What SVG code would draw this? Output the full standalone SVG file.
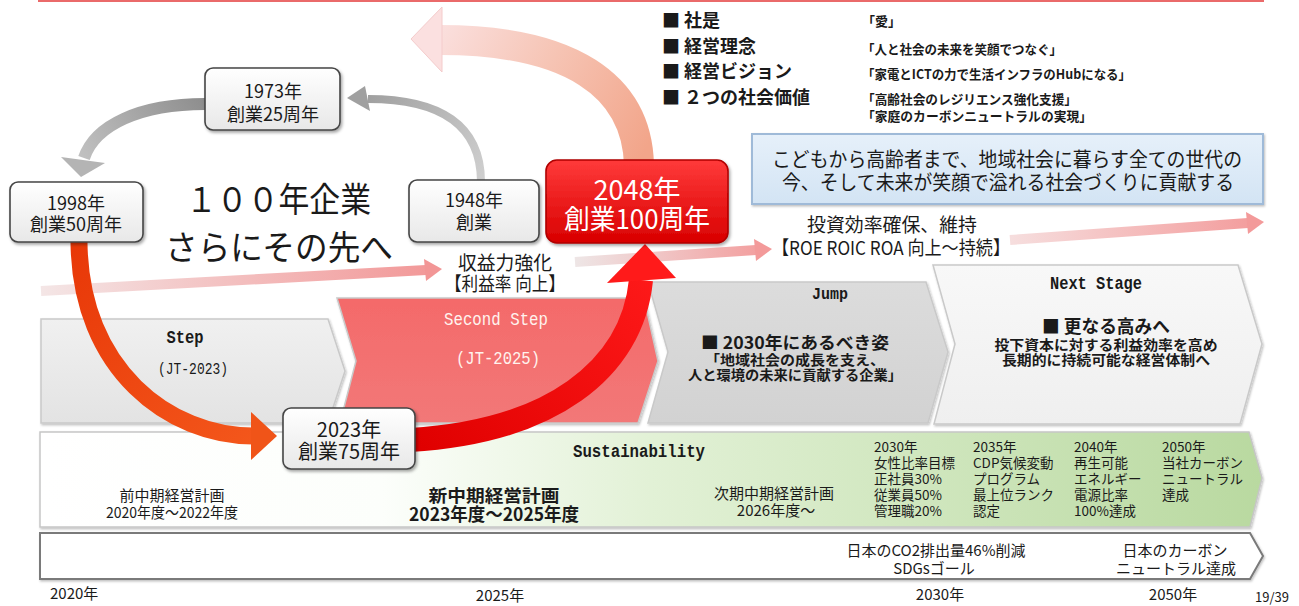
<svg xmlns="http://www.w3.org/2000/svg" width="1299" height="606" viewBox="0 0 1299 606">
<defs>
<style>
text { font-family: "Noto Sans CJK JP", "Noto Sans", sans-serif; fill: #1a1a1a; }
.c { text-anchor: middle; }
.b { font-weight: bold; }
.m { font-family: "Liberation Mono", "DejaVu Sans Mono", "Noto Sans CJK JP", monospace; font-weight: bold; }
.node { fill: url(#gNode); stroke: #454545; stroke-width: 1.6; filter: url(#sh); }
.nt { font-size: 18px; text-anchor: middle; }
.col { font-size: 13.5px; }
.chev { stroke: #c9c9c9; stroke-width: 1.5; filter: url(#sh2); }
</style>
<linearGradient id="gNode" x1="0" y1="0" x2="0" y2="1"><stop offset="0" stop-color="#ffffff"/><stop offset="1" stop-color="#e8e8e8"/></linearGradient>
<linearGradient id="gRedBox" x1="0" y1="0" x2="0" y2="1"><stop offset="0" stop-color="#ff3a3a"/><stop offset="1" stop-color="#d80000"/></linearGradient>
<linearGradient id="gStep" x1="0" y1="0" x2="0" y2="1"><stop offset="0" stop-color="#f0f0f0"/><stop offset="1" stop-color="#e3e3e3"/></linearGradient>
<linearGradient id="gSecond" x1="0" y1="0" x2="0" y2="1"><stop offset="0" stop-color="#f46a6a"/><stop offset="1" stop-color="#f27878"/></linearGradient>
<linearGradient id="gJump" x1="0" y1="0" x2="0" y2="1"><stop offset="0" stop-color="#dcdcdc"/><stop offset="1" stop-color="#d2d2d2"/></linearGradient>
<linearGradient id="gNext" x1="0" y1="0" x2="0" y2="1"><stop offset="0" stop-color="#f8f8f8"/><stop offset="1" stop-color="#efefef"/></linearGradient>
<linearGradient id="gGreen" x1="40" y1="0" x2="1262" y2="0" gradientUnits="userSpaceOnUse"><stop offset="0" stop-color="#ffffff"/><stop offset="0.28" stop-color="#fcfefb"/><stop offset="0.5" stop-color="#e2f1d6"/><stop offset="1" stop-color="#b9d9a0"/></linearGradient>
<linearGradient id="gBlue" x1="0" y1="0" x2="0" y2="1"><stop offset="0" stop-color="#e6f0fa"/><stop offset="1" stop-color="#d3e4f4"/></linearGradient>
<linearGradient id="gPinkBig" x1="640" y1="160" x2="420" y2="40" gradientUnits="userSpaceOnUse"><stop offset="0" stop-color="#f2a58a"/><stop offset="0.5" stop-color="#f6c4b4"/><stop offset="1" stop-color="#fbe2e2"/></linearGradient>
<linearGradient id="gRed2" x1="415" y1="440" x2="645" y2="250" gradientUnits="userSpaceOnUse"><stop offset="0" stop-color="#e00000"/><stop offset="1" stop-color="#ff1a1a"/></linearGradient>
<linearGradient id="gRed1" x1="79" y1="242" x2="276" y2="436" gradientUnits="userSpaceOnUse"><stop offset="0" stop-color="#e83808"/><stop offset="1" stop-color="#f4581c"/></linearGradient>
<linearGradient id="gGrayB" x1="205" y1="104" x2="81" y2="176" gradientUnits="userSpaceOnUse"><stop offset="0" stop-color="#8e8e8e"/><stop offset="1" stop-color="#c4c4c4"/></linearGradient>
<linearGradient id="gGrayA" x1="481" y1="182" x2="347" y2="98" gradientUnits="userSpaceOnUse"><stop offset="0" stop-color="#cfcfcf"/><stop offset="1" stop-color="#9a9a9a"/></linearGradient>
<linearGradient id="gPk1" x1="40" y1="0" x2="442" y2="0" gradientUnits="userSpaceOnUse"><stop offset="0" stop-color="#f4e6e6"/><stop offset="1" stop-color="#f29696"/></linearGradient>
<linearGradient id="gPk2" x1="575" y1="0" x2="772" y2="0" gradientUnits="userSpaceOnUse"><stop offset="0" stop-color="#eee6e6"/><stop offset="1" stop-color="#f39a9a"/></linearGradient>
<linearGradient id="gPk3" x1="1010" y1="0" x2="1264" y2="0" gradientUnits="userSpaceOnUse"><stop offset="0" stop-color="#f6dede"/><stop offset="1" stop-color="#f39a9a"/></linearGradient>
<filter id="sh" x="-10%" y="-10%" width="130%" height="140%"><feDropShadow dx="1.5" dy="2" stdDeviation="1.5" flood-color="#000" flood-opacity="0.35"/></filter>
<filter id="sh2" x="-5%" y="-5%" width="110%" height="115%"><feDropShadow dx="1" dy="1.5" stdDeviation="1.2" flood-color="#000" flood-opacity="0.25"/></filter>
</defs>

<!-- top rule -->
<line x1="38" y1="1" x2="1264" y2="1" stroke="#ea6a6a" stroke-width="2"/>

<!-- stage chevrons -->
<g id="stage-step">
<polygon class="chev" fill="url(#gStep)" points="41,319 328,319 345,371 328,423 41,423"/>
<text class="m c" x="185" y="343" font-size="18" textLength="37" lengthAdjust="spacingAndGlyphs">Step</text>
<text class="m c" x="193" y="374" font-size="17" style="font-weight:normal" textLength="70" lengthAdjust="spacingAndGlyphs">(JT-2023)</text>
</g>
<g id="stage-second">
<polygon class="chev" fill="url(#gSecond)" stroke="#f29a9a" points="337,298 644,298 658,361 638,423 340,423 356,361"/>
<text class="m c" x="496" y="325" font-size="18" style="fill:#fff3ee;font-weight:normal" textLength="104" lengthAdjust="spacingAndGlyphs">Second Step</text>
<text class="m c" x="498" y="364" font-size="18" style="fill:#fff3ee;font-weight:normal" textLength="84" lengthAdjust="spacingAndGlyphs">(JT-2025)</text>
</g>
<g id="stage-jump">
<polygon class="chev" fill="url(#gJump)" points="648,282 926,282 948,352 928,423 648,423 668,352"/>
<text class="m c" x="830" y="299" font-size="17" textLength="36" lengthAdjust="spacingAndGlyphs">Jump</text>
<text class="c b" x="795" y="349" font-size="17" textLength="188" lengthAdjust="spacingAndGlyphs">■ 2030年にあるべき姿</text>
<text class="c b" x="795" y="365" font-size="13.5" textLength="180" lengthAdjust="spacingAndGlyphs">「地域社会の成長を支え、</text>
<text class="c b" x="795" y="380" font-size="13.5" textLength="214" lengthAdjust="spacingAndGlyphs">人と環境の未来に貢献する企業」</text>
</g>
<g id="stage-next">
<polygon class="chev" fill="url(#gNext)" stroke="#b8b8b8" points="933,265 1238,265 1262,344 1240,424 934,424 955,344"/>
<text class="m c" x="1096" y="289" font-size="18" textLength="92" lengthAdjust="spacingAndGlyphs">Next Stage</text>
<text class="c b" x="1106" y="333" font-size="18" textLength="128" lengthAdjust="spacingAndGlyphs">■ 更なる高みへ</text>
<text class="c b" x="1106" y="350" font-size="13.5" textLength="223" lengthAdjust="spacingAndGlyphs">投下資本に対する利益効率を高め</text>
<text class="c b" x="1106" y="365" font-size="13.5" textLength="208" lengthAdjust="spacingAndGlyphs">長期的に持続可能な経営体制へ</text>
</g>

<!-- sustainability band -->
<g id="band-sustainability">
<polygon points="40,432 1249,432 1262,478 1250,527 40,527" fill="url(#gGreen)" stroke="#c6c6c6" stroke-width="1.5" filter="url(#sh2)"/>
<text class="m c" x="639" y="457" font-size="18" textLength="132" lengthAdjust="spacingAndGlyphs">Sustainability</text>
<text class="c" x="172" y="501" font-size="15">前中期経営計画</text>
<text class="c" x="172" y="518" font-size="15" textLength="132" lengthAdjust="spacingAndGlyphs">2020年度～2022年度</text>
<text class="c b" x="494" y="502" font-size="17" textLength="131" lengthAdjust="spacingAndGlyphs">新中期経営計画</text>
<text class="c b" x="494" y="521" font-size="18" textLength="170" lengthAdjust="spacingAndGlyphs">2023年度～2025年度</text>
<text class="c" x="774" y="499" font-size="15">次期中期経営計画</text>
<text class="c" x="776" y="516" font-size="15">2026年度～</text>
<g class="col">
<text x="874" y="452">2030年</text>
<text x="874" y="468">女性比率目標</text>
<text x="874" y="484">正社員30%</text>
<text x="874" y="500">従業員50%</text>
<text x="874" y="516">管理職20%</text>
<text x="973" y="452">2035年</text>
<text x="973" y="468">CDP気候変動</text>
<text x="973" y="484">プログラム</text>
<text x="973" y="500">最上位ランク</text>
<text x="973" y="516">認定</text>
<text x="1074" y="452">2040年</text>
<text x="1074" y="468">再生可能</text>
<text x="1074" y="484">エネルギー</text>
<text x="1074" y="500">電源比率</text>
<text x="1074" y="516">100%達成</text>
<text x="1162" y="452">2050年</text>
<text x="1162" y="468">当社カーボン</text>
<text x="1162" y="484">ニュートラル</text>
<text x="1162" y="500">達成</text>
</g>
</g>

<!-- timeline bar -->
<g id="timeline">
<polygon points="40,533 1250,533 1263,556 1250,579 40,579" fill="#ffffff" stroke="#7a7a7a" stroke-width="2" filter="url(#sh2)"/>
<text class="c" x="936" y="556" font-size="15">日本のCO2排出量46%削減</text>
<text class="c" x="934" y="574" font-size="15">SDGsゴール</text>
<text class="c" x="1175" y="556" font-size="15">日本のカーボン</text>
<text class="c" x="1176" y="574" font-size="15">ニュートラル達成</text>
<text x="50" y="599" font-size="15">2020年</text>
<text class="c" x="500" y="601" font-size="15">2025年</text>
<text class="c" x="940" y="600" font-size="15">2030年</text>
<text class="c" x="1173" y="600" font-size="15">2050年</text>
<text class="c" x="1272" y="602" font-size="13">19/39</text>
</g>

<!-- connectors -->
<g id="connectors">
<g id="trend-arrows">
<path d="M41 291 L426 270" stroke="url(#gPk1)" stroke-width="10" fill="none"/>
<polygon points="424,259 442,269 426,281" fill="#f29696"/>
<path d="M575 262 L756 250" stroke="url(#gPk2)" stroke-width="10" fill="none"/>
<polygon points="754,239 772,249 756,261" fill="#f39a9a"/>
<path d="M1010 240 L1248 223" stroke="url(#gPk3)" stroke-width="10" fill="none"/>
<polygon points="1246,212 1264,222 1248,234" fill="#f39a9a"/>
</g>
<g id="arrow-2048-to-future">
<path d="M639 165 C637 85, 570 40, 440 40" stroke="url(#gPinkBig)" stroke-width="30" fill="none"/>
<polygon points="411,39 442,7 442,72" fill="#fbe0e0" stroke="#f4cccc" stroke-width="1"/>
</g>
<g id="arrow-1948-1973">
<path d="M481 182 C481 125, 440 99, 368 99" stroke="url(#gGrayA)" stroke-width="8" fill="none"/>
<polygon points="347,98 365,86 370,111" fill="#a0a0a0"/>
</g>
<g id="arrow-1973-1998">
<path d="M205 104 C140 104, 95 125, 84 158" stroke="url(#gGrayB)" stroke-width="12" fill="none"/>
<polygon points="81,177 61,157 105,163" fill="#b4b4b4"/>
</g>
<g id="arrow-1998-2023">
<path d="M79 242 C80 370, 170 436, 253 436" stroke="url(#gRed1)" stroke-width="17" fill="none"/>
<polygon points="277,436 251,412 251,460" fill="#f05418"/>
</g>
<g id="arrow-2023-2048">
<path d="M410 440 C550 432, 632 370, 641 280" stroke="url(#gRed2)" stroke-width="24" fill="none"/>
<polygon points="645,244 607,283 676,278" fill="#ff1a1a"/>
</g>
</g>

<!-- headline texts -->
<g id="headline">
<text x="186" y="212" font-size="34" textLength="185" lengthAdjust="spacingAndGlyphs">１００年企業</text>
<text x="165" y="260" font-size="34" textLength="228" lengthAdjust="spacingAndGlyphs">さらにその先へ</text>
<text class="c" x="505" y="270" font-size="19" textLength="94" lengthAdjust="spacingAndGlyphs">収益力強化</text>
<text class="c" x="505" y="291" font-size="19" textLength="120" lengthAdjust="spacingAndGlyphs">【利益率 向上】</text>
<text class="c" x="892" y="232" font-size="19" textLength="170" lengthAdjust="spacingAndGlyphs">投資効率確保、維持</text>
<text class="c" x="891" y="255" font-size="19" textLength="238" lengthAdjust="spacingAndGlyphs">【ROE ROIC ROA 向上～持続】</text>
</g>

<!-- values list -->
<g id="values">
<text class="b" x="662" y="27" font-size="18">■ 社是</text>
<text class="b" x="662" y="53" font-size="18">■ 経営理念</text>
<text class="b" x="662" y="78" font-size="18">■ 経営ビジョン</text>
<text class="b" x="662" y="104" font-size="18">■ ２つの社会価値</text>
<text class="b" x="862" y="26" font-size="13">「愛」</text>
<text class="b" x="862" y="54" font-size="13" textLength="200" lengthAdjust="spacingAndGlyphs">「人と社会の未来を笑顔でつなぐ」</text>
<text class="b" x="862" y="79" font-size="13" textLength="269" lengthAdjust="spacingAndGlyphs">「家電とICTの力で生活インフラのHubになる」</text>
<text class="b" x="862" y="104" font-size="13" textLength="215" lengthAdjust="spacingAndGlyphs">「高齢社会のレジリエンス強化支援」</text>
<text class="b" x="862" y="121" font-size="13" textLength="230" lengthAdjust="spacingAndGlyphs">「家庭のカーボンニュートラルの実現」</text>
</g>

<g id="mission">
<rect x="752" y="134" width="511" height="70" fill="url(#gBlue)" stroke="#9fbad8" stroke-width="2" filter="url(#sh2)"/>
<text class="c" x="1007" y="167" font-size="20" textLength="470" lengthAdjust="spacingAndGlyphs">こどもから高齢者まで、地域社会に暮らす全ての世代の</text>
<text class="c" x="1008" y="190" font-size="20" textLength="452" lengthAdjust="spacingAndGlyphs">今、そして未来が笑顔で溢れる社会づくりに貢献する</text>
</g>

<!-- nodes -->
<g id="node-1973">
<rect class="node" x="205" y="68" width="135" height="62" rx="8"/>
<text class="nt" x="273" y="98">1973年</text>
<text class="nt" x="273" y="121">創業25周年</text>
</g>
<g id="node-1998">
<rect class="node" x="10" y="182" width="133" height="60" rx="8"/>
<text class="nt" x="76" y="210">1998年</text>
<text class="nt" x="76" y="231">創業50周年</text>
</g>
<g id="node-1948">
<rect class="node" x="409" y="180" width="130" height="62" rx="8"/>
<text class="nt" x="474" y="207">1948年</text>
<text class="nt" x="474" y="229">創業</text>
</g>
<g id="node-2048">
<rect x="546" y="160" width="182" height="83" rx="11" fill="url(#gRedBox)" stroke="#b00000" stroke-width="1.6" filter="url(#sh)"/>
<text class="c" x="637" y="200" font-size="27" style="fill:#ffffff">2048年</text>
<text class="c" x="637" y="229" font-size="27" style="fill:#ffffff" textLength="146" lengthAdjust="spacingAndGlyphs">創業100周年</text>
</g>
<g id="node-2023">
<rect class="node" x="283" y="408" width="132" height="61" rx="8"/>
<text class="nt" x="349" y="437" style="font-size:20px">2023年</text>
<text class="nt" x="349" y="459" style="font-size:20px">創業75周年</text>
</g>
</svg>
